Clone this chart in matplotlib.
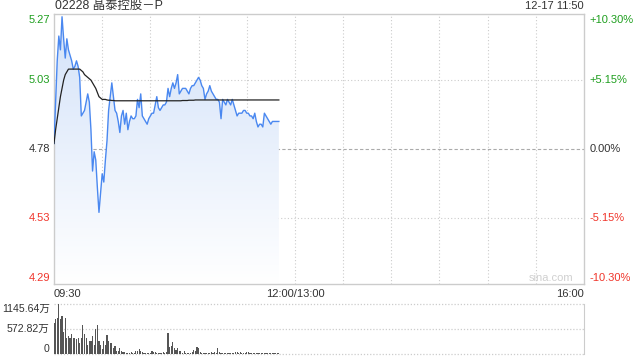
import numpy as np
import matplotlib
matplotlib.use("Agg")
import matplotlib.pyplot as plt

plt.rcParams['font.family'] = ['Liberation Sans', 'Noto Sans CJK SC', 'DejaVu Sans']

# --- data ---
title = "02228 晶泰控股－P"
stamp = "12-17 11:50"
prev_close = 4.78
price_ticks = [5.27, 5.03, 4.78, 4.53, 4.29]
pct_labels = ["+10.30%", "+5.15%", "0.00%", "-5.15%", "-10.30%"]
vol_ticks = [1145.64, 572.82, 0]
vol_labels = ["1145.64万", "572.82万", "0"]

# one value per minute from 09:30 to 11:50
price = [
    4.80, 4.95, 5.10, 5.19, 5.14, 5.26, 5.18, 5.11, 5.18, 5.14,
    5.12, 5.10, 5.07, 5.08, 5.10, 5.08, 5.04, 4.90, 4.91, 4.92,
    4.95, 4.98, 4.95, 4.85, 4.70, 4.77, 4.74, 4.64, 4.55, 4.62,
    4.69, 4.66, 4.74, 4.81, 4.92, 4.97, 5.02, 4.97, 4.92, 4.91,
    4.88, 4.84, 4.90, 4.92, 4.87, 4.91, 4.85, 4.88, 4.90, 4.89,
    4.89, 4.90, 4.96, 4.93, 4.98, 4.90, 4.89, 4.88, 4.87, 4.89,
    4.90, 4.91, 4.91, 4.94, 4.97, 4.93, 4.92, 4.93, 4.94, 4.94,
    4.95, 5.00, 4.97, 5.00, 5.02, 5.00, 5.02, 5.05, 4.98, 4.99,
    5.00, 5.00, 5.00, 4.99, 4.98, 5.00, 5.01, 5.01, 5.02, 5.03,
    5.04, 5.03, 5.01, 5.00, 4.96, 4.98, 4.99, 5.01, 4.99, 4.98,
    4.97, 4.96, 4.96, 4.95, 4.89, 4.96, 4.95, 4.94, 4.96, 4.95,
    4.94, 4.96, 4.94, 4.92, 4.90, 4.91, 4.91, 4.91, 4.92, 4.92,
    4.91, 4.91, 4.90, 4.90, 4.89, 4.91, 4.88, 4.86, 4.87, 4.87,
    4.86, 4.91, 4.90, 4.89, 4.88, 4.87, 4.88, 4.88, 4.88, 4.88,
    4.88,
]

avg_price = [
    4.80, 4.85, 4.89, 4.93, 4.97, 5.00, 5.03, 5.05, 5.06, 5.07,
    5.07, 5.07, 5.07, 5.07, 5.07, 5.07, 5.07, 5.065, 5.06, 5.05,
    5.045, 5.04, 5.035, 5.03, 5.02, 5.01, 5.00, 4.985, 4.97, 4.965,
    4.96, 4.96, 4.96, 4.958, 4.957, 4.957, 4.956, 4.956, 4.955, 4.955,
    4.955, 4.955, 4.955, 4.955, 4.955, 4.955, 4.955, 4.955, 4.955, 4.955,
    4.955, 4.955, 4.955, 4.955, 4.955, 4.955, 4.955, 4.955, 4.955, 4.955,
    4.955, 4.955, 4.955, 4.955, 4.955, 4.955, 4.955, 4.955, 4.955, 4.955,
    4.955, 4.955, 4.955, 4.955, 4.955, 4.955, 4.955, 4.955, 4.955, 4.955,
    4.956, 4.956, 4.956, 4.956, 4.957, 4.957, 4.957, 4.957, 4.958, 4.958,
    4.958, 4.958, 4.958, 4.958, 4.958, 4.958, 4.958, 4.958, 4.958, 4.958,
    4.958, 4.958, 4.958, 4.958, 4.958, 4.958, 4.958, 4.958, 4.958, 4.958,
    4.958, 4.958, 4.958, 4.958, 4.958, 4.958, 4.958, 4.958, 4.958, 4.958,
    4.958, 4.958, 4.958, 4.958, 4.958, 4.958, 4.958, 4.958, 4.958, 4.958,
    4.958, 4.958, 4.958, 4.958, 4.958, 4.958, 4.958, 4.958, 4.958, 4.958,
    4.958,
]

# volume per minute, in 万
volume = [
    700, 800, 830, 1145, 797, 875, 503, 836, 372, 410,
    372, 449, 372, 372, 333, 372, 256, 372, 658, 449,
    372, 217, 294, 294, 410, 217, 565, 658, 294, 217,
    124, 294, 217, 425, 294, 256, 256, 140, 178, 62,
    77, 140, 62, 39, 39, 23, 15, 31, 46, 23,
    23, 77, 62, 116, 62, 46, 31, 23, 31, 23,
    23, 62, 46, 54, 23, 23, 20, 30, 40, 20,
    40, 481, 153, 175, 283, 137, 92, 130, 76, 61,
    31, 76, 23, 31, 23, 31, 53, 92, 76, 168,
    130, 38, 31, 23, 15, 23, 31, 31, 38, 31,
    53, 31, 137, 46, 31, 23, 15, 23, 31, 23,
    15, 23, 31, 46, 53, 23, 38, 15, 23, 31,
    38, 46, 31, 23, 31, 23, 31, 23, 31, 23,
    15, 23, 31, 23, 15, 23, 15, 23, 15, 23,
    20,
]

minutes = np.arange(len(price))
total_minutes = 330
grid_minutes = np.arange(30, 301, 30)

green = '#1f9f1f'
red = '#f0352b'
dark = '#333333'
grid_c = '#cccccc'
tick_colors = [green, green, dark, red, red]
fs = 8.0

fig = plt.figure(figsize=(6.4, 3.6), dpi=100)
ax = fig.add_axes([54 / 640, 1 - 284 / 360, 530 / 640, 270 / 360])
axv = fig.add_axes([54 / 640, 1 - 354 / 360, 530 / 640, 50 / 360])

ymin, ymax = price_ticks[-1], price_ticks[0]

# gradient fill under the price line
grad = np.linspace(0, 1, 256).reshape(-1, 1)
cmap = matplotlib.colors.LinearSegmentedColormap.from_list('g', ['#ffffff', '#d3e2f9'])
img = ax.imshow(grad, extent=[0, len(price) - 1, ymin, ymax], origin='lower',
                aspect='auto', cmap=cmap, zorder=1)
clip = matplotlib.patches.Polygon(
    np.column_stack([np.r_[minutes, minutes[-1], 0], np.r_[price, ymin, ymin]]),
    transform=ax.transData, facecolor='none', edgecolor='none')
ax.add_patch(clip)
img.set_clip_path(clip)

ax.plot(minutes, price, color='#4a88f0', lw=1.0, zorder=3)
ax.plot(minutes, avg_price, color='#222222', lw=0.9, zorder=4)

ax.set_xlim(0, total_minutes)
ax.set_ylim(ymin, ymax)
ax.set_xticks([])
ax.set_yticks([])
for s in ax.spines.values():
    s.set_color(grid_c)
    s.set_linewidth(1)

for m in grid_minutes:
    ax.axvline(m, color=grid_c, lw=0.8, ls=(0, (1, 2)), zorder=0)
for p in price_ticks[1:-1]:
    if p == prev_close:
        ax.axhline(p, color='#aaaaaa', lw=0.8, ls=(0, (3, 2)), zorder=0)
    else:
        ax.axhline(p, color=grid_c, lw=0.8, ls=(0, (1, 2)), zorder=0)

# price labels left, percent labels right
for i, (p, lab, c) in enumerate(zip(price_ticks, pct_labels, tick_colors)):
    va = 'top' if i == 0 else ('bottom' if i == len(price_ticks) - 1 else 'center')
    yy = p - 0.003 if i == 0 else (p + 0.005 if i == len(price_ticks) - 1 else p)
    ax.text(-0.008, yy, f"{p:.2f}", transform=ax.get_yaxis_transform(),
            ha='right', va=va, color=c, fontsize=fs)
    ax.text(1.011, yy, lab, transform=ax.get_yaxis_transform(),
            ha='left', va=va, color=c, fontsize=fs)

ax.text(0.002, 1.008, title, transform=ax.transAxes, ha='left', va='bottom',
        fontsize=8.9, color=dark)
ax.text(1, 1.01, stamp, transform=ax.transAxes, ha='right', va='bottom',
        fontsize=fs, color=dark)
ax.text(0, -0.018, "09:30", transform=ax.transAxes, ha='left', va='top',
        fontsize=fs, color=dark)
ax.text(150 / total_minutes, -0.018, "12:00/13:00", transform=ax.transAxes,
        ha='center', va='top', fontsize=fs, color=dark)
ax.text(1, -0.018, "16:00", transform=ax.transAxes, ha='right', va='top',
        fontsize=fs, color=dark)
ax.text(0.98, 0.022, "sina.com", transform=ax.transAxes, ha='right', va='center',
        fontsize=8, color='#d0d0d0')

# volume panel
axv.bar(minutes, volume, width=0.72, color='#555555', zorder=2)
axv.set_xlim(0, total_minutes)
axv.set_ylim(0, vol_ticks[0])
axv.set_xticks([])
axv.set_yticks([])
for k in ['left', 'top', 'bottom']:
    axv.spines[k].set_visible(False)
axv.spines['right'].set_color(grid_c)
for v in vol_ticks:
    axv.axhline(v, color=grid_c, lw=0.9, ls=(0, (1, 1.5)), zorder=0, clip_on=False)
for i, (v, lab) in enumerate(zip(vol_ticks, vol_labels)):
    va = 'top' if i == 0 else ('bottom' if i == len(vol_ticks) - 1 else 'center')
    axv.text(-0.008, v, lab, transform=axv.get_yaxis_transform(), ha='right',
             va=va, fontsize=7.6, color=dark)

fig.savefig("out.png", dpi=100)
